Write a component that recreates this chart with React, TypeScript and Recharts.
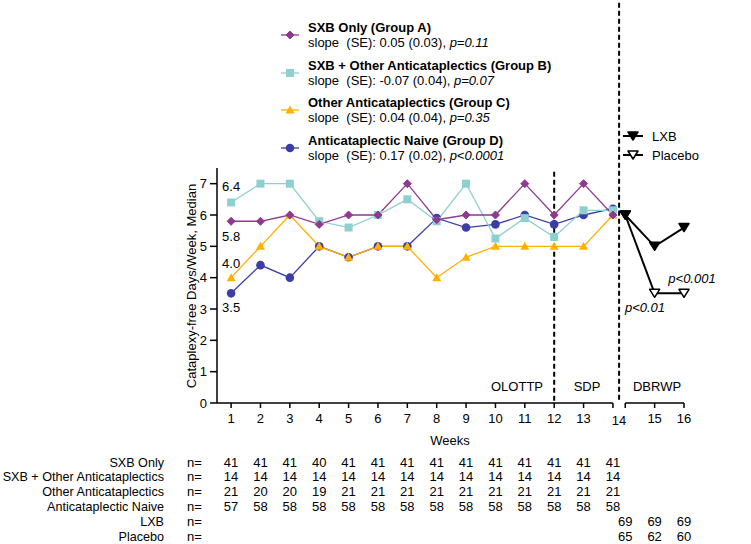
import React from "react";
import { ComposedChart, Line, XAxis, YAxis, ReferenceLine } from "recharts";

// weeks 1-14: open-label / stable dose periods
const weeks = [1, 2, 3, 4, 5, 6, 7, 8, 9, 10, 11, 12, 13, 14];
const sxbOnly = [5.8, 5.8, 6.0, 5.7, 6.0, 6.0, 7.0, 5.85, 6.0, 6.0, 7.0, 6.0, 7.0, 6.0];
const sxbOther = [6.4, 7.0, 7.0, 5.8, 5.6, 6.0, 6.5, 5.8, 7.0, 5.25, 5.9, 5.3, 6.15, 6.15];
const otherOnly = [4.0, 5.0, 6.0, 5.0, 4.65, 5.0, 5.0, 4.0, 4.65, 5.0, 5.0, 5.0, 5.0, 6.0];
const naive = [3.5, 4.4, 4.0, 5.0, 4.65, 5.0, 5.0, 5.9, 5.6, 5.7, 6.0, 5.7, 6.0, 6.2];

// weeks 14-16: randomized withdrawal
const rwWeeks = [14, 15, 16];
const lxb = [6.0, 5.0, 5.6];
const placebo = [6.0, 3.5, 3.5];

// n per week
const nSxbOnly = [41, 41, 41, 40, 41, 41, 41, 41, 41, 41, 41, 41, 41, 41];
const nSxbOther = [14, 14, 14, 14, 14, 14, 14, 14, 14, 14, 14, 14, 14, 14];
const nOther = [21, 20, 20, 19, 21, 21, 21, 21, 21, 21, 21, 21, 21, 21];
const nNaive = [57, 58, 58, 58, 58, 58, 58, 58, 58, 58, 58, 58, 58, 58];
const nLxb = [69, 69, 69];
const nPlacebo = [65, 62, 60];

const yTicks = [0, 1, 2, 3, 4, 5, 6, 7];

const BREAK = 0.42; // axis break offset after week 14
const X_MIN = 0.52;
const X_MAX = 16 + BREAK;

const PURPLE = "#8E3A8E";
const TEAL = "#8ECFCF";
const ORANGE = "#FFB000";
const BLUE = "#3D3DA8";
const FONT = '"Liberation Sans", Arial, sans-serif';

const data = [
  ...weeks.map((w, i) => ({ x: w, A: sxbOnly[i], B: sxbOther[i], C: otherOnly[i], D: naive[i] })),
  ...rwWeeks.map((w, i) => ({ x: w + BREAK, lxb: lxb[i], pbo: placebo[i] })),
];

type Mk = { cx: number; cy: number };
const Diamond = ({ cx, cy }: Mk) => (
  <path d={`M${cx},${cy - 4} L${cx + 4},${cy} L${cx},${cy + 4} L${cx - 4},${cy} Z`} fill={PURPLE} stroke={PURPLE} />
);
const Square = ({ cx, cy }: Mk) => <rect x={cx - 4} y={cy - 4} width={8} height={8} fill={TEAL} />;
const TriUp = ({ cx, cy }: Mk) => (
  <path d={`M${cx},${cy - 4.5} L${cx + 4.5},${cy + 3.5} L${cx - 4.5},${cy + 3.5} Z`} fill={ORANGE} />
);
const Circ = ({ cx, cy }: Mk) => <circle cx={cx} cy={cy} r={4.3} fill={BLUE} />;
const TriDown = ({ cx, cy, open }: Mk & { open?: boolean }) => (
  <path
    d={`M${cx - 5},${cy - 4} L${cx + 5},${cy - 4} L${cx},${cy + 4} Z`}
    fill={open ? "#fff" : "#000"}
    stroke="#000"
    strokeWidth={1.5}
    strokeLinejoin="round"
  />
);

const dotWith = (Shape: any, extra: any = {}) => (p: any) => {
  if (p.cx == null || p.cy == null || p.value == null) return <g key={p.index} />;
  return <Shape key={p.index} cx={p.cx} cy={p.cy} {...extra} />;
};

// value label on the first point only
const firstLabel = (dy: number) => (p: any) => {
  if (p.index !== 0 || p.value == null) return <g key={p.index} />;
  return (
    <text key={p.index} x={p.x} y={p.y + dy} textAnchor="middle" fontSize={13} fontFamily={FONT} fill="#000">
      {Number(p.value).toFixed(1)}
    </text>
  );
};

const ROW_Y = [462, 476, 491, 506, 521, 536];
const rowLabels = ["SXB Only", "SXB + Other Anticataplectics", "Other Anticataplectics", "Anticataplectic Naive", "LXB", "Placebo"];

function WeekTick(props: any) {
  const { x, payload } = props;
  const v: number = payload.value;
  const isRw = v > 14.1;
  const wk = isRw ? Math.round(v - BREAK) : v;
  const t = (tx: number, ty: number, s: any, k: string) => (
    <text key={k} x={tx} y={ty + 4.6} textAnchor="middle" fontSize={13} fontFamily={FONT} fill="#000">
      {s}
    </text>
  );
  const out: any[] = [];
  if (!isRw && v !== 14) out.push(t(x, 418, v, "l"));
  if (!isRw && v === 14) out.push(t(x + 6, 420, 14, "l"));
  if (isRw && wk !== 14) out.push(t(x, 418, wk, "l"));
  if (!isRw) {
    const i = v - 1;
    [nSxbOnly, nSxbOther, nOther, nNaive].forEach((arr, r) => out.push(t(x, ROW_Y[r], arr[i], "n" + r)));
  } else {
    const i = wk - 14;
    out.push(t(x, ROW_Y[4], nLxb[i], "n4"));
    out.push(t(x, ROW_Y[5], nPlacebo[i], "n5"));
  }
  return <g>{out}</g>;
}

const legendItems = [
  { title: "SXB Only (Group A)", slope: "slope  (SE): 0.05 (0.03), ", p: "p=0.11", Shape: Diamond, color: PURPLE, y: 35 },
  { title: "SXB + Other Anticataplectics (Group B)", slope: "slope  (SE): -0.07 (0.04), ", p: "p=0.07", Shape: Square, color: TEAL, y: 73 },
  { title: "Other Anticataplectics (Group C)", slope: "slope  (SE): 0.04 (0.04), ", p: "p=0.35", Shape: TriUp, color: ORANGE, y: 110 },
  { title: "Anticataplectic Naive (Group D)", slope: "slope  (SE): 0.17 (0.02), ", p: "p<0.0001", Shape: Circ, color: BLUE, y: 148 },
];

export default function App() {
  const txt = { fontFamily: FONT, fontSize: 13, fill: "#000" } as const;
  return (
    <div style={{ position: "absolute", left: 0, top: 0, width: 751, height: 544, background: "#fff" }}>
      <ComposedChart width={751} height={544} data={data} margin={{ top: 168, right: 67, bottom: 111, left: 160 }}>
        <XAxis
          dataKey="x"
          type="number"
          domain={[X_MIN, X_MAX]}
          ticks={[...weeks, ...rwWeeks.map((w) => w + BREAK)]}
          interval={0}
          axisLine={false}
          tickLine={{ stroke: "#000", strokeWidth: 1.5 }}
          tickSize={5}
          height={30}
          tick={<WeekTick />}
        />
        <YAxis
          type="number"
          domain={[0, 7.5]}
          ticks={yTicks}
          width={57}
          axisLine={{ stroke: "#000", strokeWidth: 1.5 }}
          tickLine={{ stroke: "#000", strokeWidth: 1.5 }}
          tickSize={7}
          tickMargin={3}
          tick={{ fill: "#000", fontSize: 13, fontFamily: FONT }}
        />
        <ReferenceLine segment={[{ x: X_MIN, y: 0 }, { x: 14, y: 0 }]} stroke="#000" strokeWidth={1.5} />
        <ReferenceLine segment={[{ x: 14 + BREAK, y: 0 }, { x: X_MAX, y: 0 }]} stroke="#000" strokeWidth={1.5} />
        <ReferenceLine segment={[{ x: 12, y: 7.38 }, { x: 12, y: 0 }]} stroke="#000" strokeWidth={2} strokeDasharray="5 3" />
        <ReferenceLine
          segment={[{ x: 14 + BREAK / 2, y: 0.1 }, { x: 14 + BREAK / 2, y: 12.86 }]}
          stroke="#000"
          strokeWidth={2}
          strokeDasharray="5 3"
          ifOverflow="visible"
        />
        <Line dataKey="D" stroke={BLUE} strokeWidth={1.3} dot={dotWith(Circ)} label={firstLabel(19)} isAnimationActive={false} />
        <Line dataKey="C" stroke={ORANGE} strokeWidth={1.3} dot={dotWith(TriUp)} label={firstLabel(-10)} isAnimationActive={false} />
        <Line dataKey="B" stroke={TEAL} strokeWidth={1.3} dot={dotWith(Square)} label={firstLabel(-11)} isAnimationActive={false} />
        <Line dataKey="A" stroke={PURPLE} strokeWidth={1.3} dot={dotWith(Diamond)} label={firstLabel(20)} isAnimationActive={false} />
        <Line dataKey="pbo" stroke="#000" strokeWidth={2} dot={dotWith(TriDown, { open: true })} isAnimationActive={false} />
        <Line dataKey="lxb" stroke="#000" strokeWidth={2} dot={dotWith(TriDown)} isAnimationActive={false} />
      </ComposedChart>

      <svg width={751} height={544} style={{ position: "absolute", left: 0, top: 0, pointerEvents: "none" }}>
        {/* group legend */}
        {legendItems.map((it) => (
          <g key={it.title}>
            <line x1={281} x2={299} y1={it.y} y2={it.y} stroke={it.color} strokeWidth={1.3} />
            <it.Shape cx={290} cy={it.y} />
            <text x={308} y={it.y - 3.5} {...txt} fontWeight="bold">
              {it.title}
            </text>
            <text x={308} y={it.y + 11.5} {...txt} style={{ whiteSpace: "pre" }}>
              {it.slope}
              <tspan fontStyle="italic">{it.p}</tspan>
            </text>
          </g>
        ))}

        {/* LXB / placebo legend */}
        <line x1={623} x2={643} y1={136} y2={136} stroke="#000" strokeWidth={2} />
        <TriDown cx={633} cy={136} />
        <text x={652} y={140.6} {...txt}>LXB</text>
        <line x1={623} x2={643} y1={155} y2={155} stroke="#000" strokeWidth={2} />
        <TriDown cx={633} cy={155} open />
        <text x={652} y={159.6} {...txt}>Placebo</text>

        {/* p-values */}
        <text x={645} y={312} {...txt} textAnchor="middle" fontStyle="italic">p&lt;0.01</text>
        <text x={692} y={283} {...txt} textAnchor="middle" fontStyle="italic">p&lt;0.001</text>

        {/* period labels */}
        <text x={517} y={391} {...txt} textAnchor="middle">OLOTTP</text>
        <text x={587} y={391} {...txt} textAnchor="middle">SDP</text>
        <text x={657} y={391} {...txt} textAnchor="middle">DBRWP</text>

        {/* axis titles */}
        <text x={0} y={0} {...txt} textAnchor="middle" transform="translate(196,286) rotate(-90)">
          Cataplexy-free Days/Week, Median
        </text>
        <text x={450} y={444.6} {...txt} textAnchor="middle">Weeks</text>

        {/* n table row labels */}
        {rowLabels.map((l, i) => (
          <g key={l}>
            <text x={164} y={ROW_Y[i] + 4.6} {...txt} fontSize={12.6} textAnchor="end">{l}</text>
            <text x={187} y={ROW_Y[i] + 4.6} {...txt}>n=</text>
          </g>
        ))}
      </svg>
    </div>
  );
}
